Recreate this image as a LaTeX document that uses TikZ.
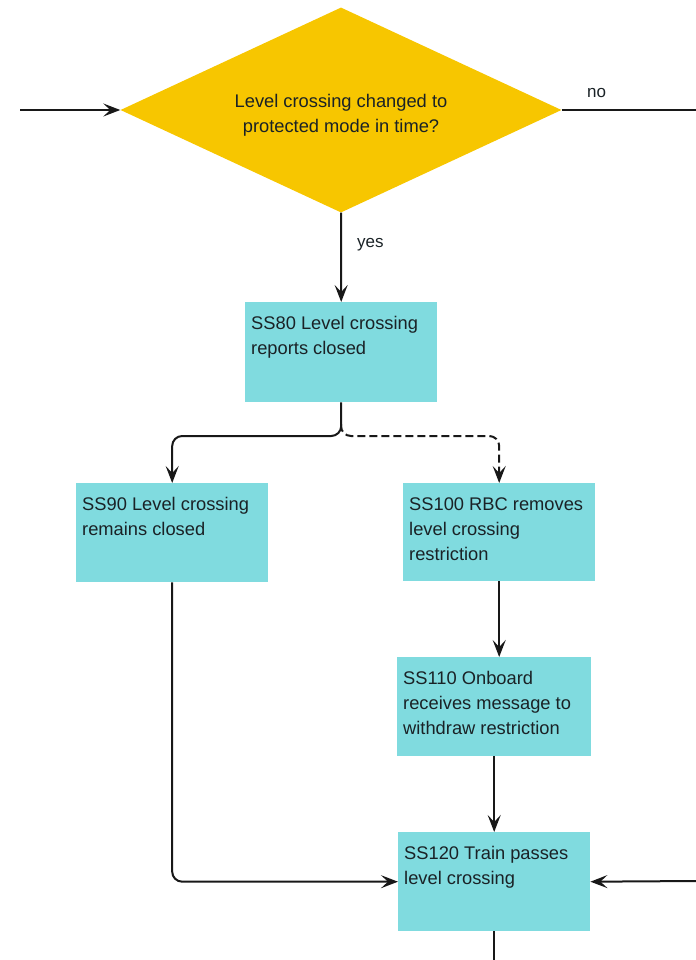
\documentclass[tikz,border=0pt]{standalone}
\usepackage{fontspec}
\setmainfont{Liberation Sans}
\usetikzlibrary{shapes.geometric,arrows.meta,calc}

\definecolor{decisionfill}{RGB}{247,198,0}
\definecolor{stepfill}{RGB}{128,219,223}
\definecolor{inkline}{RGB}{24,24,24}
\definecolor{inktext}{RGB}{26,34,38}

\tikzset{
  stepbox/.style={rectangle, fill=stepfill, anchor=north west, inner xsep=6bp,
    inner ysep=0pt, text height=27bp, font=\fontsize{18.3bp}{25bp}\selectfont,
    text=inktext},
  decision/.style={diamond, fill=decisionfill, inner sep=0pt, shape aspect=2.15,
    minimum width=441bp, minimum height=205bp,
    font=\fontsize{18.3bp}{25bp}\selectfont, text=inktext},
  flow/.style={draw=inkline, line width=2bp,
    -{Stealth[length=17bp, width=13bp, inset=7bp]}},
  plain/.style={draw=inkline, line width=2bp},
  lbl/.style={font=\fontsize{17bp}{20bp}\selectfont, text=inktext, inner sep=0pt}
}

% stepnode{name}{x}{y}{width}{height}{text}
\newcommand{\stepnode}[6]{%
  \node[stepbox, text depth=#5bp-27bp] (#1) at (#2,#3)
    {\parbox[t]{\dimexpr#4bp-12bp\relax}{\raggedright #6}};}

\begin{document}
\begin{tikzpicture}[x=1bp, y=-1bp]
  \useasboundingbox (0,0) rectangle (696,960);

  % decision, its two text lines set a little below the centre
  \node[decision] (dec) at (341,110)
    {\raisebox{-9bp}[0pt][0pt]{\begin{tabular}{@{}c@{}}Level crossing changed to\\protected mode in time?\end{tabular}}};

  % process steps
  \stepnode{ss80}{245}{302}{192}{100}{SS80 Level crossing reports closed}
  \stepnode{ss90}{76}{483}{192}{99}{SS90 Level crossing remains closed}
  \stepnode{ss100}{403}{483}{192}{98}{SS100 RBC removes level crossing restriction}
  \stepnode{ss110}{397}{657}{194}{99}{SS110 Onboard receives message to withdraw restriction}
  \stepnode{ss120}{398}{832}{192}{99}{SS120 Train passes level crossing}

  % free ends at the picture edges
  \coordinate (inL) at (20,110);
  \coordinate (noR) at (696,110);
  \coordinate (rin) at (696,881);
  \coordinate (bout) at (ss120.south |- 0,960);
  \coordinate (split) at (341,436);
  \coordinate (splitTop) at (341,424);

  % connectors
  \draw[flow] (inL) -- (dec.west);
  \draw[plain] (dec.east) -- (noR);
  \node[lbl, anchor=south west] (nolbl) at (587,98) {no};
  \draw[flow] (dec.south) -- (ss80.north);
  \node[lbl, anchor=west] (yeslbl) at (357,245) {yes};

  \draw[flow, rounded corners=10bp] (ss80.south) |- (ss90.north |- split) -- (ss90.north);
  \draw[flow, dashed, dash pattern=on 8bp off 4bp, rounded corners=10bp]
    (splitTop) |- (ss100.north |- split) -- (ss100.north);

  \draw[flow] (ss100.south) -- (ss100.south |- ss110.north);
  \draw[flow] (ss110.south) -- (ss110.south |- ss120.north);
  \draw[flow, rounded corners=10bp] (ss90.south) |- (ss120.west);
  \draw[flow] (rin) -- (ss120.east);
  \draw[plain] (ss120.south) -- (bout);
\end{tikzpicture}
\end{document}
